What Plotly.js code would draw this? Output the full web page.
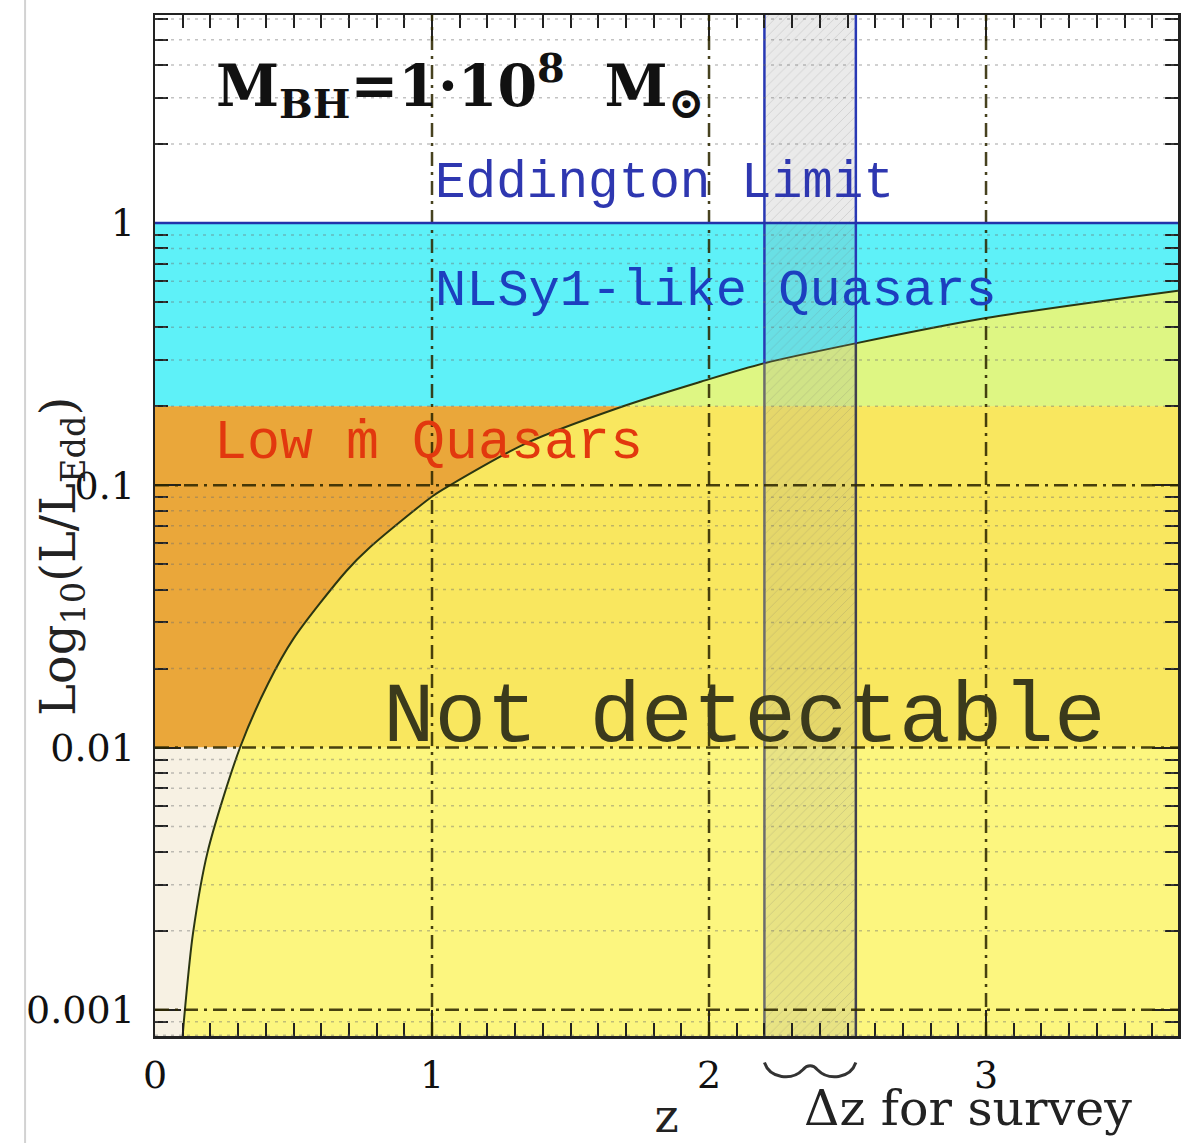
<!DOCTYPE html>
<html><head><meta charset="utf-8">
<script src="https://cdn.plot.ly/plotly-3.0.1.min.js"></script>
<style>html,body{margin:0;padding:0;background:#fff}</style>
</head><body><div id="chart" style="width:1190px;height:1143px"></div>
<script>
// Detection-limit curve (redshift z, L/L_Edd)
const curveZ = [0.10, 0.108, 0.137, 0.19, 0.307, 0.408, 0.5, 0.69, 0.776, 1.003, 1.065, 1.343, 1.69, 1.97, 2.2, 2.52, 3.0, 3.693];
const curveL = [0.00079, 0.001, 0.00195, 0.004, 0.01, 0.0175, 0.026, 0.047, 0.058, 0.091, 0.1, 0.145, 0.2, 0.248, 0.292, 0.346, 0.434, 0.552];
// Regime boundaries (L/L_Edd)
const eddingtonL = 1;
const nlsyMinL = 0.2;
const lowMdotMinL = 0.01;
// Survey redshift window and where its edges cross the curve
const surveyZ = [2.2, 2.53];
const surveySplitL = [0.292, 0.347];
// Axes
const xTicks = [0, 1, 2, 3];
const xTickText = ['0', '1', '2', '3'];
const yTicks = [0.001, 0.01, 0.1, 1];
const yTickText = ['0.001', '0.01', '0.1', '1'];
const xRange = [0, 3.693];
const yLogRange = [-3.10, 0.793];
const majorGridL = [0.001, 0.01, 0.1];
const majorGridZ = [1, 2, 3];

const yMin = Math.pow(10, yLogRange[0]) * 0.9;
const yMax = Math.pow(10, yLogRange[1]) * 1.1;
const xMax = xRange[1] + 0.05;
const nLast = curveZ.length - 1;

const traces = [
  // right-hand boundary for the "not detectable" fill
  {x: [xMax, xMax, xMax], y: [yMin, curveL[0], curveL[nLast]], mode: 'lines', line: {width: 0}, hoverinfo: 'skip'},
  // detection limit: region to its right is not detectable
  {x: [curveZ[0]].concat(curveZ), y: [yMin].concat(curveL), mode: 'lines', fill: 'tonextx', fillcolor: 'rgba(252,246,103,0.81)',
   line: {color: '#2b3612', width: 2, shape: 'spline', smoothing: 0.8}, hoverinfo: 'skip'},
  {x: [surveyZ[0], surveyZ[1], surveyZ[1], surveyZ[0]], y: [yMin, yMin, yMax, yMax], fill: 'toself', mode: 'lines', line: {width: 0},
   fillcolor: 'rgba(150,150,150,0.2)',
   fillpattern: {shape: '/', fgcolor: 'rgba(110,110,110,0.45)', size: 7, solidity: 0.12, fillmode: 'overlay'}, hoverinfo: 'skip'}
];
for (let i = 0; i < surveyZ.length; i++) {
  traces.push({x: [surveyZ[i], surveyZ[i]], y: [yMin, surveySplitL[i]], mode: 'lines', line: {color: i === 0 ? '#6c6c6c' : '#404050', width: 2.5}, hoverinfo: 'skip'});
  traces.push({x: [surveyZ[i], surveyZ[i]], y: [surveySplitL[i], yMax], mode: 'lines', line: {color: '#2838b4', width: 2.5}, hoverinfo: 'skip'});
}

const shapes = [
  {type: 'rect', layer: 'below', xref: 'paper', x0: 0, x1: 1, yref: 'y', y0: nlsyMinL, y1: eddingtonL, fillcolor: '#5ef1f8', line: {width: 0}},
  {type: 'rect', layer: 'below', xref: 'paper', x0: 0, x1: 1, yref: 'y', y0: lowMdotMinL, y1: nlsyMinL, fillcolor: '#eaa73a', line: {width: 0}},
  {type: 'rect', layer: 'below', xref: 'paper', x0: 0, x1: 1, yref: 'y', y0: yMin, y1: lowMdotMinL, fillcolor: '#f7f1e3', line: {width: 0}}
];
// minor dotted horizontal grid
for (let d = -4; d <= 0; d++) {
  for (let k = 2; k <= 9; k++) {
    const v = k * Math.pow(10, d);
    if (Math.log10(v) < yLogRange[0] || Math.log10(v) > yLogRange[1]) continue;
    shapes.push({type: 'line', layer: 'above', xref: 'paper', x0: 0, x1: 1, yref: 'y', y0: v, y1: v,
      line: {color: 'rgba(110,110,110,0.42)', width: 1.5, dash: '3px,5px'}});
  }
}
majorGridL.forEach(v => shapes.push({type: 'line', layer: 'above', xref: 'paper', x0: 0, x1: 1, yref: 'y', y0: v, y1: v,
  line: {color: 'rgba(45,40,0,0.88)', width: 2.5, dash: '14px,6px,3px,6px'}}));
majorGridZ.forEach(v => shapes.push({type: 'line', layer: 'above', xref: 'x', x0: v, x1: v, yref: 'paper', y0: 0, y1: 1,
  line: {color: 'rgba(45,40,0,0.88)', width: 2.5, dash: '14px,6px,3px,6px'}}));
shapes.push({type: 'line', layer: 'above', xref: 'paper', x0: 0, x1: 1, yref: 'y', y0: eddingtonL, y1: eddingtonL,
  line: {color: '#2233aa', width: 2.5}});
// page edge line
shapes.push({type: 'line', layer: 'above', xref: 'paper', x0: -0.127, x1: -0.127, yref: 'paper', y0: -0.11, y1: 1.02,
  line: {color: '#d2d2d2', width: 2}});
// wavy brace under the survey window
const b0 = surveyZ[0], b1 = surveyZ[1], w = (b1 - b0);
shapes.push({type: 'path', layer: 'above', xref: 'x', yref: 'paper',
  path: `M ${b0},-0.026 C ${b0 + 0.06 * w},-0.042 ${b0 + 0.3 * w},-0.044 ${b0 + 0.42 * w},-0.033 ` +
        `C ${b0 + 0.47 * w},-0.028 ${b0 + 0.53 * w},-0.028 ${b0 + 0.58 * w},-0.033 ` +
        `C ${b0 + 0.7 * w},-0.044 ${b0 + 0.94 * w},-0.042 ${b1},-0.026`,
  line: {color: '#333', width: 3}});

const mono = 'Liberation Mono, DejaVu Sans Mono, monospace';
const serif = 'DejaVu Serif, serif';
const annotations = [
  {xref: 'paper', yref: 'paper', x: 0.058, y: 0.930, xanchor: 'left', yanchor: 'middle', showarrow: false,
   text: '<b>M<sub>BH</sub>=1·10<sup>8</sup>  M<sub><span style="font-size:44px">⊙</span></sub></b>', font: {family: serif, size: 57, color: '#111'}},
  {xref: 'paper', yref: 'paper', x: 0.272, y: 0.835, xanchor: 'left', yanchor: 'middle', showarrow: false,
   text: 'Eddington Limit', font: {family: mono, size: 51, color: '#2e37b0'}},
  {xref: 'paper', yref: 'paper', x: 0.272, y: 0.729, xanchor: 'left', yanchor: 'middle', showarrow: false,
   text: 'NLSy1-like Quasars', font: {family: mono, size: 52, color: '#1c3fbf'}},
  {xref: 'paper', yref: 'paper', x: 0.056, y: 0.580, xanchor: 'left', yanchor: 'middle', showarrow: false,
   text: 'Low ṁ Quasars', font: {family: mono, size: 55, color: '#e2380e'}},
  {xref: 'paper', yref: 'paper', x: 0.221, y: 0.311, xanchor: 'left', yanchor: 'middle', showarrow: false,
   text: 'Not detectable', font: {family: mono, size: 86, color: '#3b3a1c'}},
  {xref: 'paper', yref: 'paper', x: 0.795, y: -0.071, xanchor: 'center', yanchor: 'middle', showarrow: false,
   text: 'Δz for survey', font: {family: serif, size: 49, color: '#222'}},
  {xref: 'paper', yref: 'paper', x: -0.092, y: 0.47, xanchor: 'center', yanchor: 'middle', showarrow: false, textangle: -90,
   text: 'Log<sub>10</sub>(L/L<sub>Edd</sub>)', font: {family: serif, size: 48, color: '#222'}}
];

const axisCommon = {
  showline: true, linewidth: 2.5, linecolor: '#222', mirror: 'allticks',
  ticks: 'inside', ticklen: 26, tickwidth: 2, tickcolor: '#222',
  showgrid: false, zeroline: false
};
const layout = {
  width: 1190, height: 1143,
  margin: {l: 155, r: 12, t: 15, b: 107},
  paper_bgcolor: '#ffffff', plot_bgcolor: '#ffffff',
  showlegend: false,
  xaxis: Object.assign({}, axisCommon, {
    range: xRange, tickmode: 'array', tickvals: xTicks, ticktext: xTickText,
    tickfont: {family: serif, size: 38, color: '#111'}, ticklabelstandoff: 4,
    minor: {dtick: 0.1, tick0: 0, ticks: 'inside', ticklen: 13, tickwidth: 2, tickcolor: '#222', showgrid: false},
    title: {text: 'z', font: {family: serif, size: 46, color: '#222'}, standoff: 6}
  }),
  yaxis: Object.assign({}, axisCommon, {
    type: 'log', range: yLogRange, tickmode: 'array', tickvals: yTicks, ticktext: yTickText,
    tickfont: {family: serif, size: 38, color: '#111'}, ticklabelstandoff: 10,
    minor: {dtick: 'D1', ticks: 'inside', ticklen: 13, tickwidth: 2, tickcolor: '#222', showgrid: false}
  }),
  shapes: shapes,
  annotations: annotations
};
Plotly.newPlot('chart', traces, layout, {displayModeBar: false, staticPlot: true});
</script></body></html>
